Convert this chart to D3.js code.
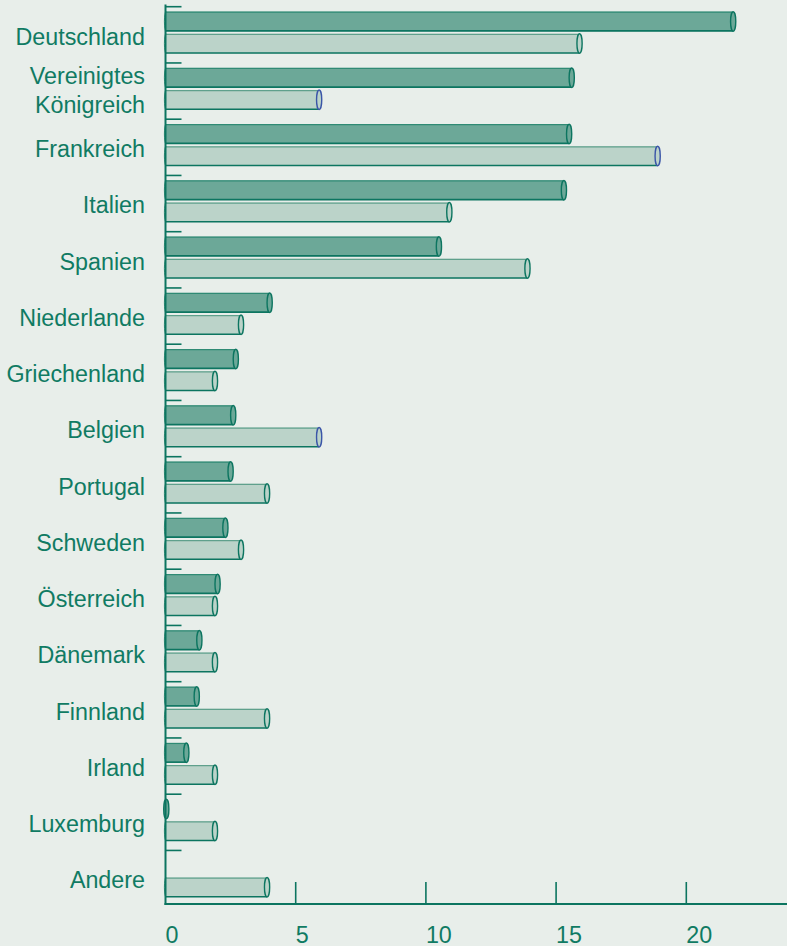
<!DOCTYPE html>
<html>
<head>
<meta charset="utf-8">
<script src="https://cdn.jsdelivr.net/npm/d3@7/dist/d3.min.js"></script>
<style>
  html, body { margin: 0; padding: 0; background: #e8eeea; }
  svg { display: block; }
  text { font-family: "Liberation Sans", Arial, Helvetica, sans-serif; font-weight: normal; }
</style>
</head>
<body>
<script>
// ---- data ----
const categories = ["Deutschland", "Vereinigtes Königreich", "Frankreich", "Italien", "Spanien",
  "Niederlande", "Griechenland", "Belgien", "Portugal", "Schweden", "Österreich",
  "Dänemark", "Finnland", "Irland", "Luxemburg", "Andere"];
const seriesDark  = [21.9, 15.7, 15.6, 15.4, 10.6, 4.1, 2.8, 2.7, 2.6, 2.4, 2.1, 1.4, 1.3, 0.9, 0.1, null];
const seriesLight = [16, 6, 19, 11, 14, 3, 2, 6, 4, 3, 2, 2, 4, 2, 2, 4];
const xTicks = [0, 5, 10, 15, 20];
const blueCapCategories = ["Vereinigtes Königreich", "Frankreich", "Belgien"];

// ---- layout ----
const W = 787, H = 946;
const teal = "#0c7560";
const textCol = "#107b63";
const darkFill = "#6ca898";
const lightFill = "#bbd3c9";
const blueCap = "#3a55a8";

const svg = d3.select("body").append("svg").attr("width", W).attr("height", H);
svg.append("rect").attr("width", W).attr("height", H).attr("fill", "#e8eeea");

const x = d3.scaleLinear().domain([0, 24]).range([165.5, 165.5 + 24 * 26.04]);
const y = d3.scaleBand().domain(categories).range([6.7, 906.7]).padding(0);
const sub = d3.scaleBand().domain(["dark", "light"]).range([5, 46.6]).paddingInner(0.1176).paddingOuter(0);

const axisY = 904;
const rx = 2.6;

// bars
const rows = categories.map((c, i) => ({ c, dark: seriesDark[i], light: seriesLight[i] }));
const g = svg.append("g");

function cylinder(sel, cat, key, v, fill, capStroke) {
  if (v == null) return;
  const y0 = y(cat) + sub(key);
  const h = sub.bandwidth();
  const x0 = x(0), x1 = x(v) - rx;
  const grp = sel.append("g");
  if (x1 > x0) {
    grp.append("ellipse").attr("cx", x0 + 0.5).attr("cy", y0 + h / 2).attr("rx", 1.6).attr("ry", h / 2)
      .attr("fill", fill).attr("stroke", "#3f917b").attr("stroke-width", 1);
    grp.append("rect").attr("x", x0 + 0.5).attr("y", y0).attr("width", x1 - x0 - 0.5).attr("height", h)
      .attr("fill", fill).attr("stroke", "none");
    grp.append("line").attr("x1", x0 + 0.5).attr("x2", x1).attr("y1", y0 + 0.5).attr("y2", y0 + 0.5)
      .attr("stroke", key === "dark" ? "#2f8a74" : "#5fa08c").attr("stroke-width", 1.2);
    grp.append("line").attr("x1", x0 + 0.5).attr("x2", x1).attr("y1", y0 + h - 0.3).attr("y2", y0 + h - 0.3)
      .attr("stroke", teal).attr("stroke-width", 1.6);
  }
  grp.append("ellipse").attr("cx", Math.max(x1, x0 + 0.8)).attr("cy", y0 + h / 2).attr("rx", rx).attr("ry", h / 2)
    .attr("fill", fill).attr("stroke", capStroke).attr("stroke-width", 1.4);
}

rows.forEach(r => {
  cylinder(g, r.c, "dark", r.dark, darkFill, teal);
  cylinder(g, r.c, "light", r.light, lightFill, blueCapCategories.includes(r.c) ? blueCap : teal);
});

// y axis line
svg.append("line").attr("x1", x(0)).attr("x2", x(0)).attr("y1", 4.5).attr("y2", axisY + 1)
  .attr("stroke", teal).attr("stroke-width", 2);
// category ticks
svg.append("g").selectAll("line").data(categories).join("line")
  .attr("x1", x(0)).attr("x2", x(0) + 16)
  .attr("y1", d => y(d)).attr("y2", d => y(d))
  .attr("stroke", teal).attr("stroke-width", 1.6);

// x axis
svg.append("line").attr("x1", x(0) - 1).attr("x2", W).attr("y1", axisY).attr("y2", axisY)
  .attr("stroke", teal).attr("stroke-width", 2);
svg.append("g").selectAll("line").data(xTicks.filter(t => t > 0)).join("line")
  .attr("x1", d => x(d)).attr("x2", d => x(d)).attr("y1", axisY).attr("y2", axisY - 22)
  .attr("stroke", teal).attr("stroke-width", 1.6);
svg.append("g").selectAll("text").data(xTicks).join("text")
  .attr("x", d => x(d)).attr("y", 942.5)
  .attr("text-anchor", "start")
  .attr("font-size", 23.3)
  .attr("fill", textCol).text(d => d);

// category labels
const lab = svg.append("g")
  .attr("font-size", 23.3).attr("fill", textCol).attr("text-anchor", "end");
categories.forEach(c => {
  const cy = y(c) + y.bandwidth() / 2;
  const words = c === "Vereinigtes Königreich" ? ["Vereinigtes", "Königreich"] : [c];
  if (words.length === 1) {
    lab.append("text").attr("x", 145).attr("y", cy + 9.8).text(c);
  } else {
    lab.append("text").attr("x", 145).attr("y", cy - 7.5).text(words[0]);
    lab.append("text").attr("x", 145).attr("y", cy + 21.8).text(words[1]);
  }
});
</script>
</body>
</html>
